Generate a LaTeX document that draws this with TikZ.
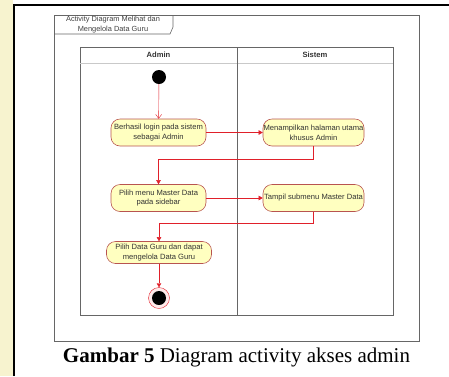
\documentclass[tikz,border=0pt]{standalone}
\usepackage{fontspec}
\setmainfont{Liberation Serif}
\newfontfamily\umlfont{Liberation Sans}
\usetikzlibrary{arrows.meta, positioning}

\definecolor{actfill}{HTML}{FFFFC0}
\definecolor{actline}{HTML}{B85450}
\definecolor{flowred}{HTML}{E0202A}
\definecolor{lanegray}{HTML}{666666}
\definecolor{marklight}{HTML}{F7F3CF}

\tikzset{
  activity/.style={draw=actline, fill=actfill, line width=0.6pt, rounded corners=9pt, minimum width=95pt, minimum height=27pt, inner sep=0pt, align=center, text=black!80, font=\umlfont\fontsize{7.6}{9.6}\selectfont},
  lanehead/.style={font=\umlfont\bfseries\fontsize{7.6}{9}\selectfont, text=black!80},
  flow/.style={draw=flowred, -{Triangle[length=4pt,width=4.5pt]}},
  dot/.style={circle, fill=black, minimum size=14pt, inner sep=0pt},
}

\begin{document}
\begin{tikzpicture}[x=1pt,y=-1pt]
\useasboundingbox (0,0) rectangle (449,376);

%Page
\fill[marklight] (0,0) rectangle (13,376);
\draw[line width=1.6pt] (14,376) -- (14,5) -- (449,5);

%Frame
\draw[lanegray, line width=0.6pt] (54,15) rectangle (419,341);
\draw[lanegray, line width=0.6pt] (54,34) -- (170,34) -- (173,27) -- (173,15);
\node[align=center, text=black!75, font=\umlfont\fontsize{7.4}{9.4}\selectfont] (title) at (113,24.5) {Activity Diagram Melihat dan\\Mengelola Data Guru};

%Swimlanes
\draw[lanegray, line width=0.6pt] (80,47) rectangle (393,315);
\draw[lanegray!35] (80,63) -- (393,63);
\draw[lanegray, line width=0.6pt] (237,47) -- (237,315);
\node[lanehead] (admin) at (158.5,55) {Admin};
\node[lanehead] (sistem) at (315,55) {Sistem};

%Activities
\node[dot] (start) at (159,77) {};
\node[activity] (login) at (158.5,132.5) {Berhasil login pada sistem\\sebagai Admin};
\node[activity, minimum width=101pt] (home) at (313.5,132.5) {Menampilkan halaman utama\\khusus Admin};
\node[activity] (menu) at (158.5,198) {Pilih menu Master Data\\pada sidebar};
\node[activity, minimum width=101pt] (submenu) at (313.5,198) {Tampil submenu Master Data};
\node[activity, minimum width=105pt, minimum height=22pt] (kelola) at (159,252.5) {Pilih Data Guru dan dapat\\mengelola Data Guru};
\node[circle, draw=flowred, fill=red!8, minimum size=21pt, inner sep=0pt] (end) at (159,298) {};
\node[dot] (endcore) at (end) {};

%Flows
\draw[draw=flowred, -{Straight Barb[length=4pt,width=6pt]}] (start) -- (login);
\draw[flow] (login) -- (home);
\draw[flow] (home.south) -- ++(0,13) -| (menu.north);
\draw[flow] (menu) -- (submenu);
\draw[flow] (submenu.south) -- ++(0,11.5) -| (kelola.north);
\draw[flow] (kelola) -- (end);

%Caption
\node[font=\fontsize{21}{24}\selectfont] (caption) at (236.5,357) {\textbf{Gambar 5} Diagram activity akses admin};
\end{tikzpicture}
\end{document}
